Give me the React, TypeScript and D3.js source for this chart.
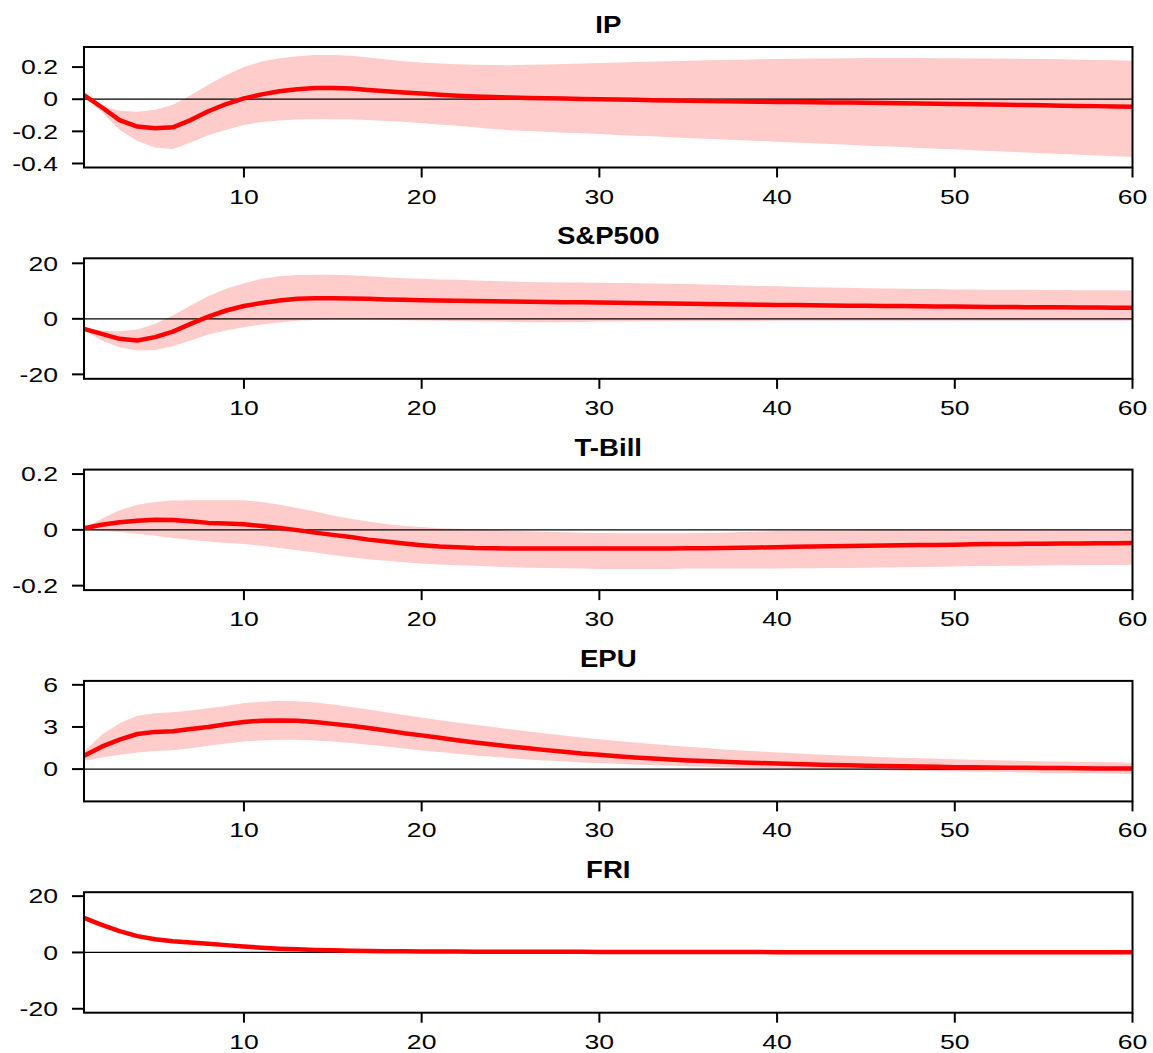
import React from "react";
import * as d3 from "d3";

// impulse responses, horizons 1..60
const horizons = Array.from({ length: 60 }, (_, i) => i + 1);
const xTicks = [10, 20, 30, 40, 50, 60];

const ipMid = [0.025, -0.05, -0.13, -0.17, -0.18, -0.175, -0.13, -0.075, -0.03, 0.005,
  0.03, 0.05, 0.062, 0.07, 0.07, 0.066, 0.058, 0.05, 0.042, 0.035,
  0.028, 0.022, 0.017, 0.014, 0.011, 0.008, 0.006, 0.004, 0.002, 0.0,
  -0.002, -0.004, -0.006, -0.008, -0.01, -0.011, -0.012, -0.014, -0.015, -0.017,
  -0.018, -0.019, -0.02, -0.021, -0.022, -0.024, -0.025, -0.027, -0.028, -0.03,
  -0.031, -0.033, -0.035, -0.036, -0.038, -0.04, -0.042, -0.043, -0.045, -0.047];
const ipHi = [0.03, -0.04, -0.072, -0.078, -0.065, -0.035, 0.025, 0.09, 0.15, 0.2,
  0.235, 0.255, 0.268, 0.275, 0.275, 0.27, 0.26, 0.247, 0.236, 0.228,
  0.222, 0.218, 0.215, 0.213, 0.212, 0.214, 0.216, 0.219, 0.222, 0.225,
  0.228, 0.231, 0.234, 0.237, 0.24, 0.242, 0.244, 0.246, 0.248, 0.25,
  0.252, 0.253, 0.254, 0.255, 0.256, 0.256, 0.256, 0.256, 0.255, 0.255,
  0.254, 0.253, 0.252, 0.251, 0.25, 0.248, 0.246, 0.244, 0.242, 0.24];
const ipLo = [0.02, -0.08, -0.19, -0.26, -0.3, -0.31, -0.27, -0.225, -0.19, -0.16,
  -0.142, -0.132, -0.127, -0.125, -0.125, -0.127, -0.13, -0.135, -0.14, -0.15,
  -0.157, -0.165, -0.175, -0.185, -0.193, -0.198, -0.203, -0.208, -0.212, -0.217,
  -0.222, -0.227, -0.231, -0.236, -0.241, -0.246, -0.25, -0.255, -0.26, -0.265,
  -0.27, -0.274, -0.279, -0.284, -0.289, -0.293, -0.298, -0.303, -0.308, -0.312,
  -0.317, -0.322, -0.327, -0.331, -0.336, -0.341, -0.346, -0.35, -0.355, -0.36];

const spMid = [-3.6, -5.4, -7.2, -7.8, -6.6, -4.6, -1.8, 0.8, 3.0, 4.6,
  5.7, 6.6, 7.2, 7.4, 7.4, 7.3, 7.2, 7.0, 6.85, 6.7,
  6.6, 6.5, 6.4, 6.3, 6.2, 6.15, 6.1, 6.0, 5.95, 5.9,
  5.8, 5.7, 5.6, 5.5, 5.4, 5.3, 5.25, 5.15, 5.1, 5.0,
  4.95, 4.9, 4.8, 4.75, 4.7, 4.65, 4.6, 4.5, 4.45, 4.4,
  4.35, 4.3, 4.25, 4.2, 4.2, 4.15, 4.1, 4.05, 4.0, 4.0];
const spHi = [-3.3, -4.3, -4.5, -3.8, -1.8, 1.2, 4.8, 8.2, 10.8, 12.8,
  14.4, 15.3, 15.8, 15.9, 15.9, 15.7, 15.3, 15.0, 14.6, 14.4,
  14.2, 14.1, 13.8, 13.6, 13.4, 13.3, 13.2, 13.1, 13.05, 13.0,
  12.9, 12.8, 12.7, 12.6, 12.5, 12.35, 12.2, 12.0, 11.85, 11.7,
  11.55, 11.4, 11.3, 11.15, 11.0, 10.9, 10.85, 10.75, 10.7, 10.6,
  10.55, 10.5, 10.45, 10.45, 10.4, 10.35, 10.3, 10.3, 10.25, 10.2];
const spLo = [-4.0, -7.8, -10.2, -11.4, -11.2, -9.9, -7.8, -5.6, -4.2, -3.0,
  -2.0, -1.3, -0.7, -0.4, -0.2, -0.2, -0.3, -0.4, -0.5, -0.6,
  -0.7, -0.8, -0.9, -1.0, -1.1, -1.2, -1.2, -1.2, -1.1, -1.0,
  -0.95, -0.9, -0.85, -0.8, -0.8, -0.78, -0.76, -0.75, -0.74, -0.73,
  -0.72, -0.72, -0.71, -0.71, -0.7, -0.7, -0.7, -0.7, -0.7, -0.7,
  -0.7, -0.7, -0.7, -0.7, -0.7, -0.7, -0.7, -0.7, -0.7, -0.7];

const tbMid = [0.006, 0.018, 0.027, 0.033, 0.036, 0.035, 0.031, 0.025, 0.023, 0.02,
  0.014, 0.007, -0.001, -0.01, -0.018, -0.026, -0.035, -0.042, -0.049, -0.055,
  -0.06, -0.062, -0.065, -0.066, -0.067, -0.067, -0.067, -0.067, -0.067, -0.067,
  -0.067, -0.067, -0.067, -0.067, -0.066, -0.066, -0.065, -0.064, -0.063, -0.062,
  -0.061, -0.06, -0.059, -0.058, -0.057, -0.056, -0.055, -0.054, -0.054, -0.053,
  -0.052, -0.051, -0.051, -0.05, -0.05, -0.049, -0.049, -0.048, -0.048, -0.047];
const tbHi = [0.006, 0.04, 0.07, 0.09, 0.1, 0.105, 0.106, 0.106, 0.106, 0.106,
  0.1, 0.09, 0.078, 0.066, 0.051, 0.04, 0.03, 0.021, 0.014, 0.01,
  0.006, 0.004, 0.002, 0.0, -0.003, -0.005, -0.007, -0.009, -0.01, -0.011,
  -0.012, -0.012, -0.012, -0.012, -0.012, -0.011, -0.01, -0.008, -0.006, -0.004,
  -0.003, -0.002, -0.001, -0.001, 0.0, 0.0, 0.0, 0.0, 0.0, 0.0,
  0.0, 0.0, 0.0, 0.0, 0.0, 0.0, 0.0, 0.0, 0.0, 0.0];
const tbLo = [0.0, -0.004, -0.008, -0.014, -0.021, -0.029, -0.036, -0.042, -0.047, -0.051,
  -0.057, -0.065, -0.073, -0.081, -0.09, -0.098, -0.105, -0.111, -0.116, -0.121,
  -0.124, -0.127, -0.129, -0.131, -0.134, -0.136, -0.137, -0.138, -0.139, -0.14,
  -0.14, -0.14, -0.14, -0.14, -0.139, -0.139, -0.139, -0.139, -0.139, -0.139,
  -0.138, -0.138, -0.137, -0.137, -0.136, -0.135, -0.134, -0.133, -0.132, -0.131,
  -0.13, -0.13, -0.129, -0.129, -0.128, -0.127, -0.127, -0.126, -0.126, -0.125];

const epuMid = [0.95, 1.6, 2.1, 2.5, 2.65, 2.7, 2.85, 3.0, 3.2, 3.35,
  3.45, 3.46, 3.44, 3.35, 3.22, 3.08, 2.92, 2.75, 2.56, 2.4,
  2.23, 2.06, 1.9, 1.75, 1.61, 1.49, 1.35, 1.23, 1.11, 1.02,
  0.92, 0.83, 0.76, 0.69, 0.62, 0.57, 0.52, 0.47, 0.43, 0.4,
  0.36, 0.33, 0.3, 0.27, 0.24, 0.22, 0.2, 0.18, 0.16, 0.14,
  0.13, 0.11, 0.1, 0.09, 0.08, 0.07, 0.06, 0.05, 0.04, 0.04];
const epuHi = [1.25, 2.45, 3.27, 3.8, 3.98, 4.05, 4.17, 4.34, 4.5, 4.7,
  4.8, 4.86, 4.83, 4.74, 4.6, 4.43, 4.24, 4.05, 3.86, 3.67,
  3.48, 3.32, 3.15, 2.99, 2.84, 2.68, 2.54, 2.39, 2.25, 2.13,
  2.0, 1.9, 1.78, 1.68, 1.59, 1.5, 1.4, 1.33, 1.26, 1.19,
  1.12, 1.06, 1.0, 0.95, 0.9, 0.85, 0.81, 0.77, 0.73, 0.7,
  0.67, 0.64, 0.61, 0.58, 0.56, 0.54, 0.52, 0.5, 0.48, 0.46];
const epuLo = [0.6, 0.83, 1.02, 1.19, 1.28, 1.35, 1.49, 1.66, 1.82, 1.97,
  2.04, 2.09, 2.09, 2.04, 1.97, 1.85, 1.73, 1.61, 1.47, 1.33,
  1.21, 1.09, 0.97, 0.88, 0.78, 0.69, 0.62, 0.55, 0.47, 0.43,
  0.38, 0.33, 0.28, 0.24, 0.2, 0.16, 0.13, 0.1, 0.07, 0.04,
  0.02, 0.0, -0.02, -0.04, -0.07, -0.09, -0.11, -0.13, -0.15, -0.17,
  -0.19, -0.21, -0.23, -0.25, -0.27, -0.29, -0.3, -0.32, -0.33, -0.35];

const friMid = [12.3, 9.8, 7.6, 5.8, 4.7, 4.0, 3.5, 3.1, 2.6, 2.1,
  1.7, 1.35, 1.1, 0.9, 0.75, 0.62, 0.52, 0.45, 0.4, 0.35,
  0.32, 0.3, 0.28, 0.26, 0.25, 0.24, 0.23, 0.22, 0.21, 0.2,
  0.19, 0.18, 0.17, 0.16, 0.15, 0.14, 0.13, 0.12, 0.12, 0.11,
  0.1, 0.1, 0.09, 0.09, 0.08, 0.08, 0.07, 0.07, 0.06, 0.06,
  0.06, 0.05, 0.05, 0.05, 0.04, 0.04, 0.04, 0.03, 0.03, 0.03];

const panels = [
  { title: "IP", mid: ipMid, lo: ipLo, hi: ipHi, domain: [-0.425, 0.325], ticks: [-0.4, -0.2, 0, 0.2] },
  { title: "S&P500", mid: spMid, lo: spLo, hi: spHi, domain: [-21.6, 21.8], ticks: [-20, 0, 20] },
  { title: "T-Bill", mid: tbMid, lo: tbLo, hi: tbHi, domain: [-0.216, 0.216], ticks: [-0.2, 0, 0.2] },
  { title: "EPU", mid: epuMid, lo: epuLo, hi: epuHi, domain: [-2.3, 6.28], ticks: [0, 3, 6] },
  { title: "FRI", mid: friMid, lo: null, hi: null, domain: [-21.4, 21.4], ticks: [-20, 0, 20] },
];

const W = 1153;
const H = 1053;
const left = 84;
const right = 1132.5;
const firstTop = 47;
const step = 211.3;
const plotH = 120.5;
const stretch = 1.33; // the original picture is widened horizontally
const font = "'Liberation Sans', Arial, Helvetica, sans-serif";

function Panel({ p, top }) {
  const x = d3.scaleLinear().domain([1, 60]).range([left, right]);
  const y = d3.scaleLinear().domain(p.domain).range([top + plotH, top]);
  const bottom = top + plotH;

  const band = p.lo
    ? d3.area<number>()
        .x((h) => x(h))
        .y0((h, i) => y(p.lo[i]))
        .y1((h, i) => y(p.hi[i]))(horizons)
    : null;
  const line = d3.line<number>()
    .x((h) => x(h))
    .y((h, i) => y(p.mid[i]))(horizons);

  return (
    <g>
      <text
        transform={`translate(${(left + right) / 2},${top - 14}) scale(1.2,1)`}
        textAnchor="middle"
        fontFamily={font}
        fontWeight="bold"
        fontSize={23}
      >
        {p.title}
      </text>
      {band && <path d={band} fill="#ffcccc" />}
      <line x1={left} x2={right} y1={y(0)} y2={y(0)} stroke="#000" strokeWidth={1.3} />
      <path d={line} fill="none" stroke="#ff0000" strokeWidth={4.5} strokeLinejoin="round" />
      <rect x={left} y={top} width={right - left} height={plotH} fill="none" stroke="#000" strokeWidth={2} />
      {/* y axis */}
      {p.ticks.map((t) => (
        <g key={"y" + t}>
          <line x1={left - 12} x2={left} y1={y(t)} y2={y(t)} stroke="#000" strokeWidth={2} />
          <text
            transform={`translate(58,${y(t)}) scale(${stretch},1)`}
            textAnchor="end"
            dy="0.36em"
            fontFamily={font}
            fontSize={20}
          >
            {String(t)}
          </text>
        </g>
      ))}
      {/* x axis */}
      {xTicks.map((t) => (
        <g key={"x" + t}>
          <line x1={x(t)} x2={x(t)} y1={bottom} y2={bottom + 10} stroke="#000" strokeWidth={2} />
          <text
            transform={`translate(${x(t)},${bottom + 36}) scale(${stretch},1)`}
            textAnchor="middle"
            fontFamily={font}
            fontSize={20}
          >
            {String(t)}
          </text>
        </g>
      ))}
    </g>
  );
}

export default function App() {
  return (
    <svg
      width={W}
      height={H}
      style={{ position: "absolute", left: 0, top: 0, background: "#fff" }}
    >
      {panels.map((p, i) => (
        <Panel key={p.title} p={p} top={firstTop + i * step} />
      ))}
    </svg>
  );
}
